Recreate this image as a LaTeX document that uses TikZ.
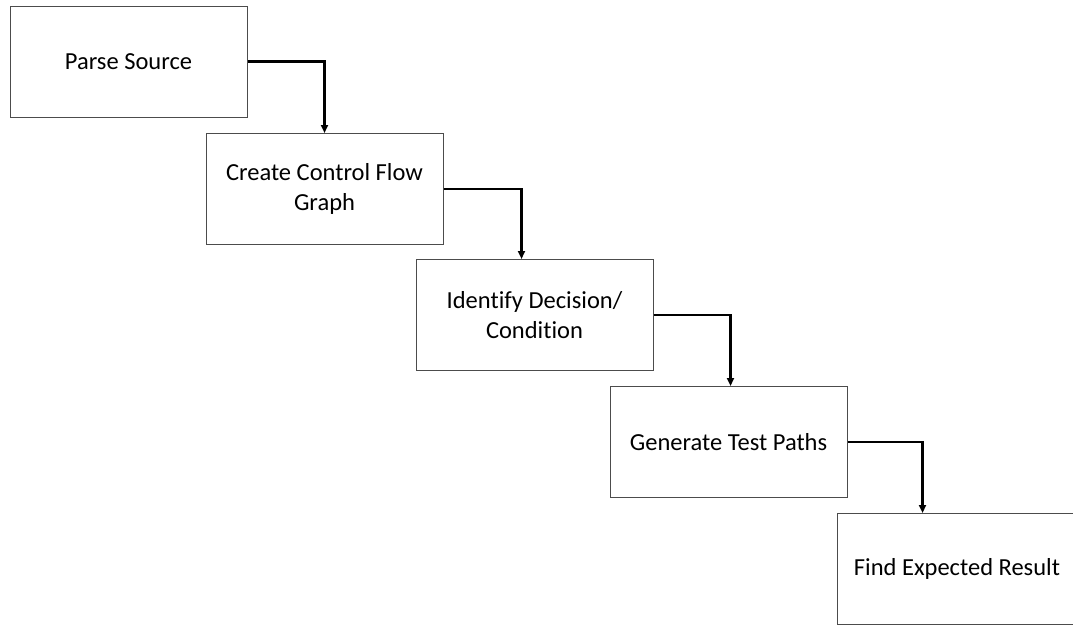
\documentclass[tikz,border=0pt]{standalone}
\usepackage{fontspec}
\setmainfont{Carlito}[Ligatures=NoCommon]
\usetikzlibrary{arrows.meta}

\begin{document}
\begin{tikzpicture}[x=1pt, y=-1pt,
	step box/.style={draw=black!70, line width=1pt, fill=white, minimum width=237pt, minimum height=111pt, inner sep=0pt, align=center, font=\fontsize{24.5}{30}\selectfont},
	flow/.style={line width=2.2pt, -{Triangle[length=8pt, width=7pt]}}]
	\useasboundingbox (0, 0) rectangle (1073, 625);
	% the five steps
	\node [step box] (parse) at (128.5, 61.5) {Parse Source};
	\node [step box] (cfg) at (324.5, 189) {Create Control Flow\\Graph};
	\node [step box] (decide) at (534.5, 315) {Identify Decision/\\Condition};
	\node [step box] (paths) at (728.5, 442) {Generate Test Paths};
	\node [step box, minimum width=240pt] (result) at (957, 569) {Find Expected Result};
	% connect them
	\draw [flow] (parse.east) -| (cfg.north);
	\draw [flow] (cfg.east) -| ([xshift=106pt]decide.north west);
	\draw [flow] (decide.east) -| ([xshift=121pt]paths.north west);
	\draw [flow] (paths.east) -| ([xshift=86pt]result.north west);
\end{tikzpicture}
\end{document}
